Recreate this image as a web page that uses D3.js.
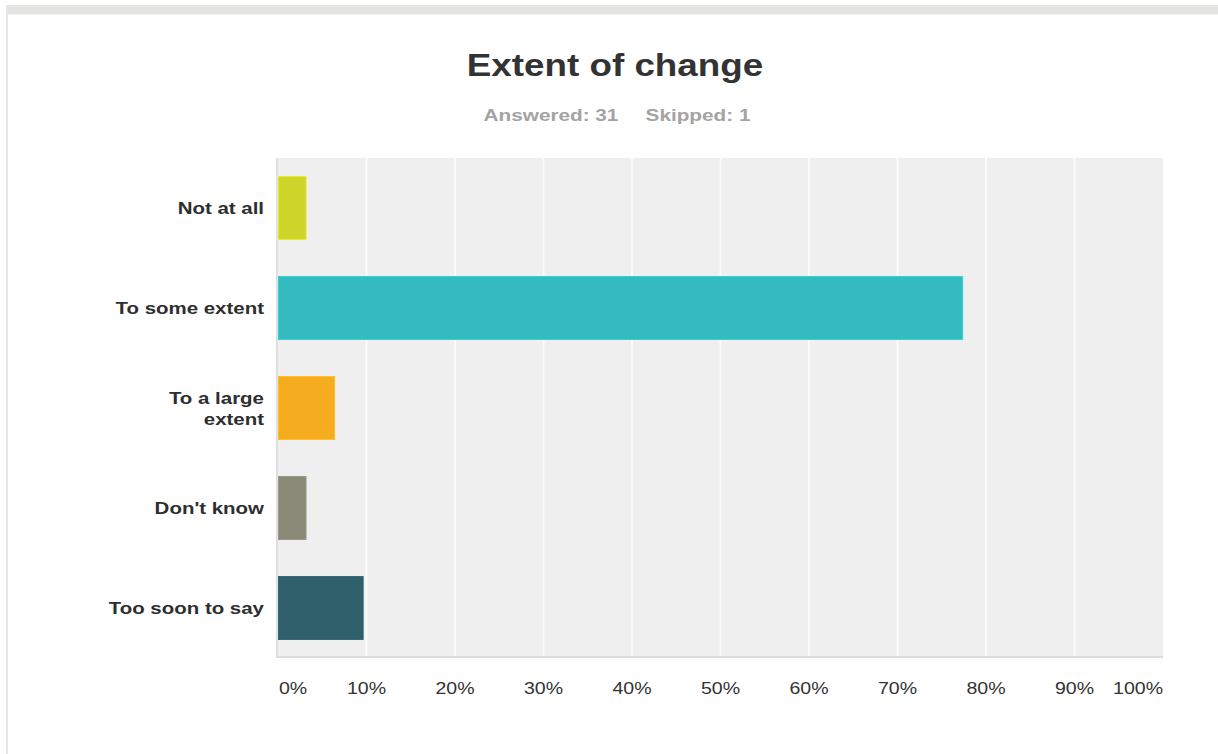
<!DOCTYPE html>
<html>
<head>
<meta charset="utf-8">
<script src="https://cdn.jsdelivr.net/npm/d3@7"></script>
<style>
  html, body { margin: 0; padding: 0; background: #fff; }
  svg { display: block; }
  text { font-family: "Liberation Sans", Arial, sans-serif; }
</style>
</head>
<body>
<script>
// Survey responses
const categories = ["Not at all", "To some extent", "To a large extent", "Don't know", "Too soon to say"];
const labelLines = [["Not at all"], ["To some extent"], ["To a large", "extent"], ["Don't know"], ["Too soon to say"]];
const responseCounts = [1, 24, 2, 1, 3];
const answered = 31;
const skipped = 1;
const barColors = ["#cdd42a", "#33bbbf", "#f5ad1f", "#8a8a78", "#2e5f6b"];
const tickValues = [0, 10, 20, 30, 40, 50, 60, 70, 80, 90, 100];
const tickLabels = ["0%", "10%", "20%", "30%", "40%", "50%", "60%", "70%", "80%", "90%", "100%"];

const W = 1218, H = 754;
const plot = { left: 276, axisX: 278, right: 1163, top: 158, bottom: 658 };

const svg = d3.select("body").append("svg").attr("width", W).attr("height", H);

// Page frame: top band and left edge
svg.append("rect").attr("x", 6).attr("y", 5).attr("width", W - 6).attr("height", 9).attr("fill", "#e4e4e2");
svg.append("rect").attr("x", 6).attr("y", 14).attr("width", W - 6).attr("height", 1).attr("fill", "#f0f0ee");
svg.append("rect").attr("x", 6).attr("y", 5).attr("width", 2).attr("height", H - 5).attr("fill", "#e6e6e6");

const x = d3.scaleLinear().domain([0, 100]).range([plot.axisX, plot.right]);
const y = d3.scaleBand().domain(categories).range([plot.top, plot.bottom]).paddingInner(0.37).paddingOuter(0.185);

// Horizontally widened text helper
function stretchedText(g, tx, ty, sx) {
  return g.append("text").attr("transform", `translate(${tx},${ty}) scale(${sx},1)`);
}

// Title and subtitle
stretchedText(svg, 615, 76, 1.15)
  .attr("text-anchor", "middle").attr("font-size", 32).attr("font-weight", "bold").attr("fill", "#333")
  .text("Extent of change");
stretchedText(svg, 551, 121, 1.22)
  .attr("text-anchor", "middle").attr("font-size", 17).attr("font-weight", "bold").attr("fill", "#a3a3a3")
  .text(`Answered: ${answered}`);
stretchedText(svg, 698, 121, 1.22)
  .attr("text-anchor", "middle").attr("font-size", 17).attr("font-weight", "bold").attr("fill", "#a3a3a3")
  .text(`Skipped: ${skipped}`);

// Plot background
svg.append("rect").attr("x", plot.left).attr("y", plot.top)
  .attr("width", plot.right - plot.left).attr("height", plot.bottom - plot.top).attr("fill", "#efefef");

// Vertical grid lines
svg.append("g").selectAll("line").data(tickValues.slice(1, -1)).join("line")
  .attr("x1", d => x(d)).attr("x2", d => x(d))
  .attr("y1", plot.top).attr("y2", plot.bottom)
  .attr("stroke", "#fafafa").attr("stroke-width", 2);

// Axis lines
svg.append("rect").attr("x", plot.left).attr("y", plot.top).attr("width", 2)
  .attr("height", plot.bottom - plot.top).attr("fill", "#e0e0e0");
svg.append("rect").attr("x", plot.left).attr("y", plot.bottom - 2).attr("width", plot.right - plot.left)
  .attr("height", 2).attr("fill", "#dcdcdc");

// Bars
const pct = responseCounts.map(c => c / answered * 100);
svg.append("g").selectAll("rect").data(categories).join("rect")
  .attr("x", x(0) + 0.5)
  .attr("y", d => y(d))
  .attr("width", (d, i) => x(pct[i]) - x(0) - 1)
  .attr("height", y.bandwidth())
  .attr("fill", (d, i) => barColors[i])
  .attr("stroke", (d, i) => d3.color(barColors[i]).brighter(0.3))
  .attr("stroke-width", 1);

// Category labels
const lab = svg.append("g");
categories.forEach((c, i) => {
  const lines = labelLines[i];
  const cy = y(c) + y.bandwidth() / 2;
  const lh = 21;
  lines.forEach((ln, j) => {
    const by = cy + 6 + (j - (lines.length - 1) / 2) * lh;
    stretchedText(lab, 264, by, 1.24)
      .attr("text-anchor", "end").attr("font-size", 16.5).attr("font-weight", "bold").attr("fill", "#2e2e2e")
      .text(ln);
  });
});

// X tick labels
const tk = svg.append("g");
tickValues.forEach((v, i) => {
  const anchor = i === 0 ? "start" : (i === tickValues.length - 1 ? "end" : "middle");
  const tx = i === 0 ? x(v) + 1 : x(v);
  stretchedText(tk, tx, 694, 1.15)
    .attr("text-anchor", anchor).attr("font-size", 17).attr("fill", "#333")
    .text(tickLabels[i]);
});
</script>
</body>
</html>
